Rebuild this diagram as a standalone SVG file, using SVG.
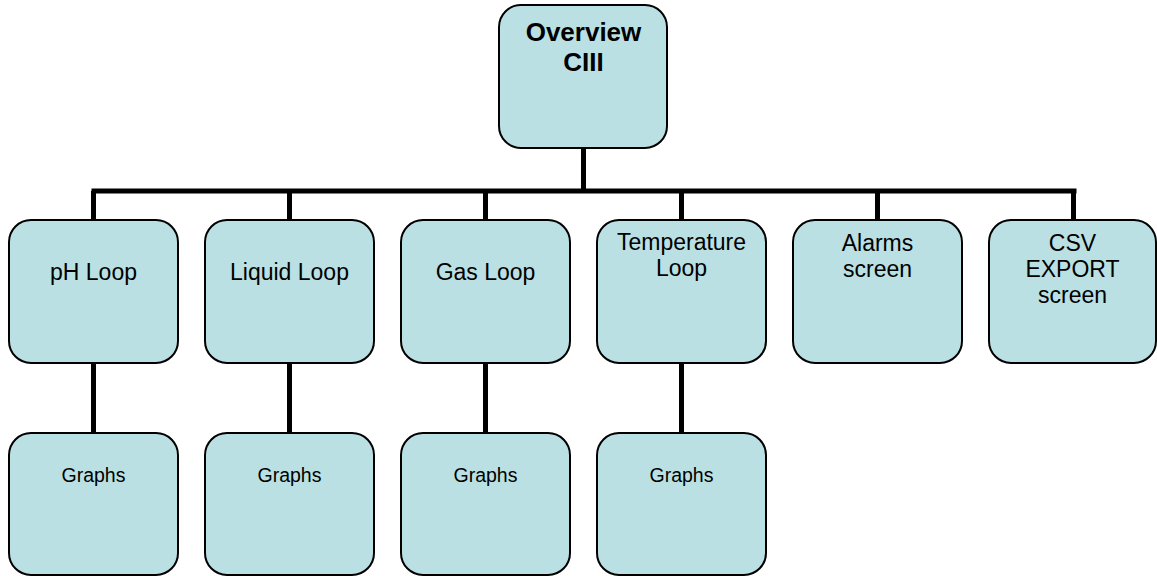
<svg xmlns="http://www.w3.org/2000/svg" width="1157" height="576" viewBox="0 0 1157 576">
<style>
.box{fill:#BAE0E3;stroke:#000;stroke-width:2}
.t{font-family:"Liberation Sans",Arial,sans-serif;font-size:23px;fill:#000;text-anchor:middle}
.g{font-family:"Liberation Sans",Arial,sans-serif;font-size:19.5px;fill:#000;text-anchor:middle}
.b{font-family:"Liberation Sans",Arial,sans-serif;font-size:26px;font-weight:bold;fill:#000;text-anchor:middle}
.c{stroke:#000;stroke-width:5;fill:none}
</style>
<rect width="1157" height="576" fill="#fff"/>
<g id="connectors">
<path class="c" d="M583.5 148V191M91.5 191H1076.5M93.5 191V220M289.5 191V220M485.5 191V220M681.5 191V220M877.5 191V220M1073.5 191V220M93.5 363V433M289.5 363V433M485.5 363V433M681.5 363V433"/>
</g>
<g id="overview"><rect class="box" x="499" y="5" width="168" height="143" rx="22"/><text class="b" x="583.5" y="41">Overview</text><text class="b" x="583.5" y="71">CIII</text></g>
<g id="ph"><rect class="box" x="9" y="220" width="169" height="143" rx="22"/><text class="t" x="93.5" y="280">pH Loop</text></g>
<g id="liquid"><rect class="box" x="205" y="220" width="169" height="143" rx="22"/><text class="t" x="289.5" y="280">Liquid Loop</text></g>
<g id="gas"><rect class="box" x="401" y="220" width="169" height="143" rx="22"/><text class="t" x="485.5" y="280">Gas Loop</text></g>
<g id="temp"><rect class="box" x="597" y="220" width="169" height="143" rx="22"/><text class="t" x="681.5" y="250">Temperature</text><text class="t" x="681.5" y="276">Loop</text></g>
<g id="alarms"><rect class="box" x="793" y="220" width="169" height="143" rx="22"/><text class="t" x="877.5" y="251">Alarms</text><text class="t" x="877.5" y="277">screen</text></g>
<g id="csv"><rect class="box" x="989" y="220" width="167" height="143" rx="22"/><text class="t" x="1072.5" y="251">CSV</text><text class="t" x="1072.5" y="277">EXPORT</text><text class="t" x="1072.5" y="303">screen</text></g>
<g id="graphs1"><rect class="box" x="9" y="433" width="169" height="142" rx="22"/><text class="g" x="93.5" y="482">Graphs</text></g>
<g id="graphs2"><rect class="box" x="205" y="433" width="169" height="142" rx="22"/><text class="g" x="289.5" y="482">Graphs</text></g>
<g id="graphs3"><rect class="box" x="401" y="433" width="169" height="142" rx="22"/><text class="g" x="485.5" y="482">Graphs</text></g>
<g id="graphs4"><rect class="box" x="597" y="433" width="169" height="142" rx="22"/><text class="g" x="681.5" y="482">Graphs</text></g>
</svg>
